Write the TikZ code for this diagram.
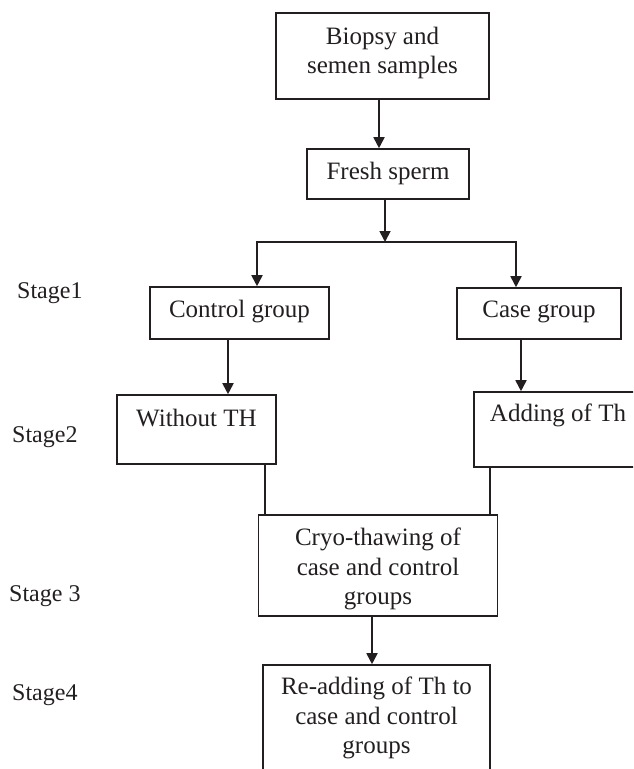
\documentclass[tikz,border=0pt]{standalone}
\usepackage{fontspec}
\setmainfont{Liberation Serif}
\usetikzlibrary{arrows.meta,positioning}
\definecolor{ink}{HTML}{231F20}
\begin{document}
\begin{tikzpicture}[x=1pt,y=-1pt,
  box/.style={draw=ink,line width=1.6pt,rectangle,inner sep=0pt},
  txt/.style={text=ink,align=center,inner sep=0pt,font=\fontsize{25}{29.5}\selectfont},
  stagelbl/.style={text=ink,inner sep=0pt,anchor=west,font=\fontsize{24}{28}\selectfont},
  conn/.style={draw=ink,line width=1.5pt},
  arr/.style={draw=ink,line width=1.8pt,-{Triangle[width=11pt,length=11pt]}}]
\useasboundingbox (0,0) rectangle (633,769);
\clip (0,0) rectangle (633,769);
% boxes
\node[box,minimum width=213pt,minimum height=86pt] (bio) at (382.5,56) {};
\node[txt] (biot) at (382.5,53) {Biopsy and\\semen samples};
\node[box,minimum width=162pt,minimum height=50pt] (fresh) at (388,174) {};
\node[txt] (fresht) at (388,173) {Fresh sperm};
\node[box,minimum width=179pt,minimum height=52pt] (control) at (239.5,313) {};
\node[txt] (controlt) at (239.5,312) {Control group};
\node[box,minimum width=164pt,minimum height=51pt] (case) at (539,313.5) {};
\node[txt] (caset) at (539,312) {Case group};
\node[box,minimum width=159pt,minimum height=69pt] (without) at (196.5,429.5) {};
\node[txt] (withoutt) at (196.5,418) {Without TH};
\node[box,minimum width=176pt,minimum height=75pt] (adding) at (562,429.5) {};
\node[txt] (addingt) at (558,415) {Adding of Th};
\node[box,minimum width=239pt,minimum height=101pt] (cryo) at (378,565.5) {};
\node[txt] (cryot) at (378,569) {Cryo-thawing of\\case and control\\groups};
\node[box,minimum width=227pt,minimum height=125pt] (readd) at (376.5,727.5) {};
\node[txt] (readdt) at (376.5,718) {Re-adding of Th to\\case and control\\groups};
% stage labels
\node[stagelbl] (s1) at (17,293) {Stage1};
\node[stagelbl] (s2) at (12,437) {Stage2};
\node[stagelbl] (s3) at (9,596) {Stage 3};
\node[stagelbl] (s4) at (12,695) {Stage4};
% connector x positions
\coordinate (xa) at (379,0);
\coordinate (xb) at (385,0);
\coordinate (j) at (385,242);
\coordinate (jl) at (257,242);
\coordinate (jr) at (516,242);
\coordinate (xc) at (228,0);
\coordinate (xd) at (521,0);
\coordinate (xe) at (265,0);
\coordinate (xf) at (490,0);
\coordinate (xg) at (372,0);
% connectors
\draw[arr] (bio.south -| xa) -- (fresh.north -| xa);
\draw[arr] (fresh.south -| xb) -- (j);
\draw[arr,-] ([xshift=-0.9pt]jl) -- ([xshift=0.9pt]jr);
\draw[arr] (jl) -- (control.north -| jl);
\draw[arr] (jr) -- (case.north -| jr);
\draw[arr] (control.south -| xc) -- (without.north -| xc);
\draw[arr] (case.south -| xd) -- (adding.north -| xd);
\draw[conn] ([yshift=2pt]without.south -| xe) -- (cryo.north -| xe);
\draw[conn] (adding.south -| xf) -- (cryo.north -| xf);
\draw[arr] (cryo.south -| xg) -- (readd.north -| xg);
\end{tikzpicture}
\end{document}
